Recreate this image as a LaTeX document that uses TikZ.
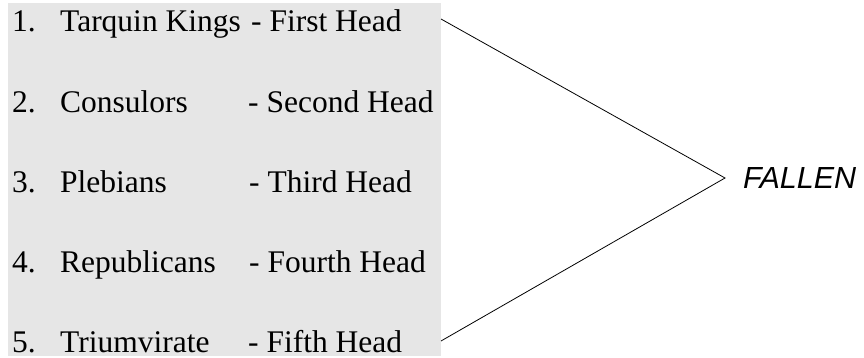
\documentclass[tikz,border=0pt]{standalone}
\usepackage{fontspec}
\setmainfont{Liberation Serif}
\newfontfamily\sansfont{Liberation Sans}
\definecolor{panelgray}{RGB}{230,230,230}
\tikzset{
  item/.style={anchor=base west, inner sep=0pt, font=\fontsize{31.5}{36}\selectfont},
  fallentext/.style={anchor=base west, inner sep=0pt, font=\sansfont\itshape\fontsize{30.5}{36}\selectfont},
  brace/.style={draw=black, line width=0.8pt, line join=miter}
}
\begin{document}
\begin{tikzpicture}[x=1pt,y=-1pt]
\useasboundingbox (0,0) rectangle (864,358);
\fill[panelgray] (8,3) rectangle (441,356);
% numbers
\node[item] (n1) at (12,32) {1.};
\node[item] (n2) at (12,113) {2.};
\node[item] (n3) at (12,193) {3.};
\node[item] (n4) at (12,272) {4.};
\node[item] (n5) at (12,352) {5.};
% names
\node[item] (a1) at (60,32) {Tarquin Kings};
\node[item] (a2) at (60,113) {Consulors};
\node[item] (a3) at (60,193) {Plebians};
\node[item] (a4) at (60,272) {Republicans};
\node[item] (a5) at (60,352) {Triumvirate};
% heads
\node[item] (h1) at (251,32) {- First Head};
\node[item] (h2) at (248,113) {- Second Head};
\node[item] (h3) at (249,193) {- Third Head};
\node[item] (h4) at (249,272) {- Fourth Head};
\node[item] (h5) at (248,352) {- Fifth Head};
% fallen
\node[fallentext] (fallen) at (743,189) {FALLEN};
\coordinate (top) at (441,19);
\coordinate (bot) at (441,341);
\coordinate (tip) at (725,178);
\draw[brace] (top) -- (tip) -- (bot);
\end{tikzpicture}
\end{document}
